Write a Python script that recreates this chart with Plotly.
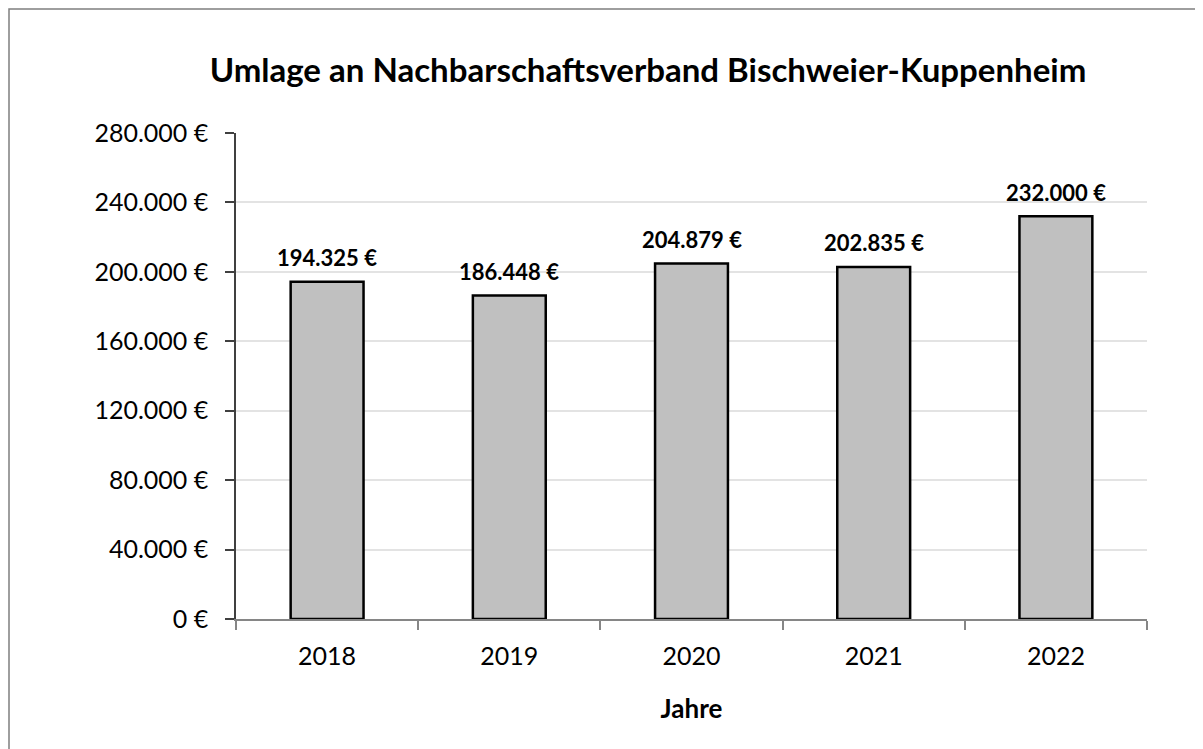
import plotly.graph_objects as go

years = ["2018", "2019", "2020", "2021", "2022"]
values = [194325, 186448, 204879, 202835, 232000]
y_ticks = [0, 40000, 80000, 120000, 160000, 200000, 240000, 280000]
title_text = "Umlage an Nachbarschaftsverband Bischweier-Kuppenheim"
x_title = "Jahre"

FONT = "Lato, Carlito, Calibri, sans-serif"


def de_fmt(v):
    return f"{v:,.0f}".replace(",", ".") + " €"


fig = go.Figure()
fig.add_trace(go.Bar(
    x=years, y=values, width=0.4,
    marker=dict(color="#c0c0c0", line=dict(color="#000000", width=2.5)),
    hoverinfo="skip",
))

for i, v in enumerate(values):
    fig.add_annotation(x=i, y=v, text="<b>" + de_fmt(v) + "</b>", showarrow=False,
                       yanchor="middle", yshift=24,
                       font=dict(family=FONT, size=22, color="#000000"))

fig.update_layout(
    width=1203, height=749,
    paper_bgcolor="white", plot_bgcolor="white",
    margin=dict(l=228, r=64, t=125, b=138),
    showlegend=False,
    font=dict(family=FONT, color="#000000"),
    title=dict(text="<b>" + title_text + "</b>", x=640 / 1203, xanchor="center",
               y=1 - 62 / 749, yanchor="middle",
               font=dict(family=FONT, size=33, color="#000000")),
)

fig.update_xaxes(
    type="category", range=[-0.5, 4.5], autorange=False,
    showline=True, linecolor="#868686", linewidth=1.5,
    ticks="outside", tickson="boundaries", ticklen=9, tickcolor="#868686", tickwidth=1.5,
    tickfont=dict(family=FONT, size=25, color="#000000"),
    ticklabelstandoff=14,
    title=dict(text="<b>" + x_title + "</b>", font=dict(family=FONT, size=26, color="#000000"), standoff=31),
    showgrid=False, zeroline=False,
)
fig.update_yaxes(
    range=[0, 280000], autorange=False, tickvals=y_ticks, ticktext=[de_fmt(t) for t in y_ticks],
    showline=True, linecolor="#404040", linewidth=1.5,
    ticks="outside", ticklen=9, tickcolor="#404040", tickwidth=1.5,
    tickfont=dict(family=FONT, size=25, color="#000000"),
    ticklabelstandoff=12,
    showgrid=True, gridcolor="#e3e3e3", gridwidth=1.5,
    zeroline=False,
)

# chart-area border (extends past the visible picture on the right and bottom)
fig.add_shape(type="rect", xref="paper", yref="paper",
              x0=(1 - 228) / 911, x1=(1290 - 236) / 911,
              y0=(619 - 790) / 486, y1=(619 - 9) / 486,
              line=dict(color="#7f7f7f", width=1.5), fillcolor="rgba(0,0,0,0)", layer="below")

fig.write_html("out.html")
